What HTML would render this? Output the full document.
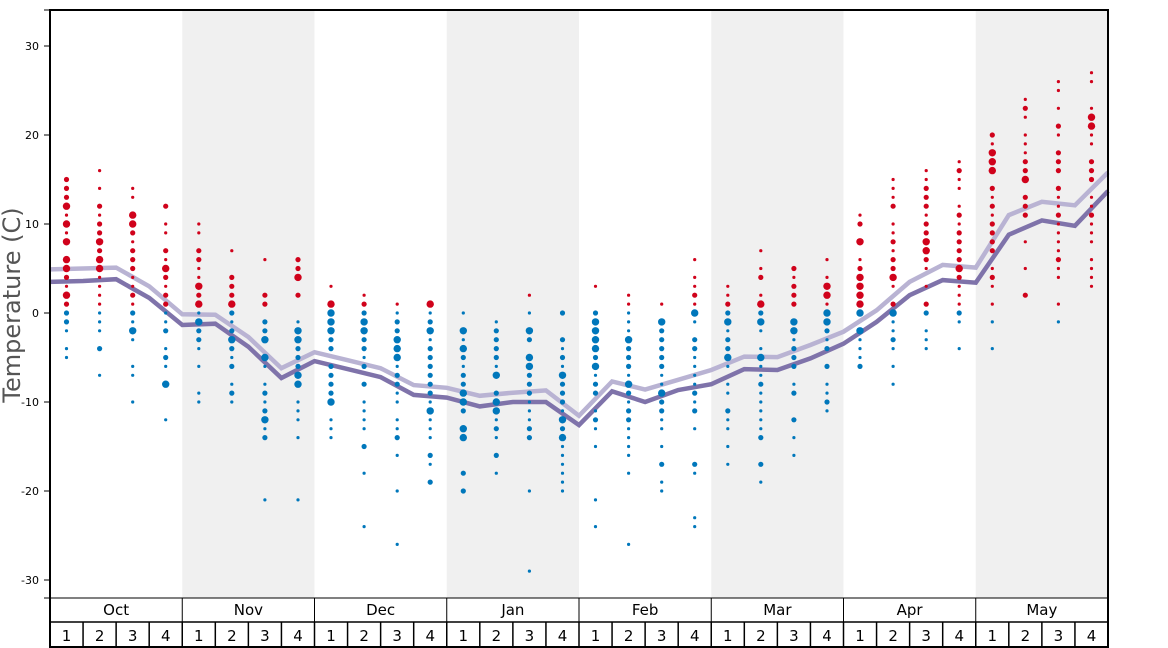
<!DOCTYPE html>
<html><head><meta charset="utf-8"><style>
html,body{margin:0;padding:0;background:#fff;}
svg{display:block;font-family:"DejaVu Sans","Liberation Sans",sans-serif;}
</style></head><body>
<svg id="chart" width="1168" height="648" viewBox="0 0 1168 648"></svg>
<script>
const months = ["Oct","Nov","Dec","Jan","Feb","Mar","Apr","May"];
const yTicks = [30,20,10,0,-10,-20,-30];
const darkLine = [3.5,3.6,3.8,1.7,-1.35,-1.2,-3.8,-7.3,-5.4,-6.3,-7.2,-9.2,-9.5,-10.5,-10.0,-10.0,-12.6,-8.8,-10.0,-8.65,-8.0,-6.3,-6.4,-5.1,-3.45,-1.0,2.0,3.7,3.4,8.8,10.4,9.8,13.7];
const lightLine = [4.9,5.0,5.1,3.0,-0.15,-0.2,-2.7,-6.2,-4.4,-5.3,-6.2,-8.1,-8.4,-9.3,-8.95,-8.7,-11.55,-7.7,-8.6,-7.5,-6.4,-4.9,-4.95,-3.6,-2.1,0.3,3.5,5.4,5.1,11.0,12.5,12.1,15.8];
const weekDots = [
"15:2,14:2,13:2,12:3,11:1,10:3,9:1,8:3,6:3,5:3,4:2,3:1,2:3,1:2,0:2,-1:2,-2:1,-4:1,-5:1",
"16:1,14:1,12:2,11:1,10:2,9:2,8:3,7:2,6:3,5:3,4:1,3:1,2:1,1:1,0:1,-1:1,-2:1,-4:2,-7:1",
"14:1,13:1,11:3,10:3,9:2,8:1,7:2,6:2,5:2,4:1,3:1,2:2,1:1,0:2,-1:1,-2:3,-3:1,-6:1,-7:1,-10:1",
"12:2,10:1,9:1,7:2,6:1,5:3,4:2,3:1,2:2,1:2,0:1,-1:1,-2:2,-4:1,-5:2,-6:1,-8:3,-12:1",
"10:1,9:1,7:2,6:2,5:1,4:1,3:3,2:2,1:3,0:1,-1:3,-2:2,-3:2,-4:1,-6:1,-9:1,-10:1",
"7:1,4:2,3:2,2:2,1:3,0:2,-1:1,-2:2,-3:3,-4:2,-5:1,-6:2,-8:1,-9:2,-10:1",
"6:1,2:2,1:2,-1:2,-2:2,-3:3,-5:3,-6:1,-8:1,-9:2,-10:1,-11:2,-12:3,-13:1,-14:2,-21:1",
"6:2,5:2,4:3,2:2,-1:1,-2:3,-3:3,-4:2,-5:2,-6:2,-7:3,-8:3,-10:1,-11:1,-12:1,-14:1,-21:1",
"3:1,1:3,0:3,-1:3,-2:3,-3:2,-4:2,-6:2,-7:2,-8:2,-9:2,-10:3,-12:1,-13:1,-14:1",
"2:1,1:2,0:2,-1:3,-2:3,-3:2,-4:2,-5:1,-6:2,-8:2,-10:1,-11:1,-12:1,-13:1,-15:2,-18:1,-24:1",
"1:1,0:1,-1:2,-2:2,-3:3,-4:3,-5:3,-6:1,-7:2,-8:2,-9:1,-10:1,-12:1,-13:1,-14:2,-16:1,-20:1,-26:1",
"1:3,0:1,-1:2,-2:3,-3:1,-4:2,-5:2,-6:2,-7:2,-8:2,-9:2,-10:1,-11:3,-12:1,-13:1,-14:1,-16:2,-17:1,-19:2",
"0:1,-2:3,-3:1,-4:3,-5:2,-6:1,-7:2,-8:2,-9:3,-10:3,-11:2,-13:3,-14:3,-18:2,-20:2",
"-1:1,-2:2,-3:2,-4:2,-5:2,-6:1,-7:3,-9:2,-10:3,-11:3,-12:1,-13:2,-14:1,-16:2,-18:1",
"2:1,0:1,-2:3,-3:2,-5:3,-6:3,-7:2,-8:2,-9:2,-10:1,-11:1,-12:1,-13:2,-14:2,-20:1,-29:1",
"0:2,-3:2,-4:1,-5:2,-6:1,-7:3,-8:2,-9:2,-10:2,-11:1,-12:3,-13:2,-14:3,-15:1,-16:1,-17:1,-18:1,-19:1,-20:1",
"3:1,0:2,-1:3,-2:3,-3:3,-4:3,-5:2,-6:3,-7:1,-8:2,-9:2,-11:1,-12:2,-13:1,-15:1,-21:1,-24:1",
"2:1,1:1,0:1,-1:1,-2:1,-3:3,-4:2,-5:2,-6:2,-7:1,-8:3,-9:2,-10:1,-11:2,-12:2,-13:1,-14:1,-15:1,-16:1,-18:1,-26:1",
"1:1,-1:3,-2:2,-3:2,-4:2,-5:2,-6:2,-7:1,-8:1,-9:3,-10:2,-11:2,-12:1,-13:1,-15:1,-17:2,-19:1,-20:1",
"6:1,4:1,3:1,2:2,1:1,0:3,-1:1,-3:2,-4:2,-5:1,-6:1,-7:1,-8:1,-9:2,-10:1,-11:2,-13:1,-17:2,-18:1,-23:1,-24:1",
"3:1,2:1,1:2,0:2,-1:3,-2:1,-3:2,-4:2,-5:3,-6:1,-8:1,-9:1,-11:2,-12:1,-13:1,-15:1,-17:1",
"7:1,5:1,4:2,2:1,1:3,0:2,-1:3,-2:1,-4:1,-5:3,-6:1,-7:1,-8:2,-9:1,-10:1,-11:1,-12:1,-13:1,-14:2,-17:2,-19:1",
"5:2,4:1,3:2,2:2,1:2,-1:3,-2:3,-3:1,-4:2,-5:2,-6:2,-8:1,-9:2,-12:2,-14:1,-16:1",
"6:1,4:1,3:3,2:3,1:1,0:3,-1:3,-2:2,-3:1,-4:2,-6:2,-8:1,-9:1,-10:2,-11:1",
"11:1,10:2,8:3,6:1,5:2,4:3,3:3,2:3,1:3,0:3,-2:3,-3:1,-4:1,-5:1,-6:2",
"15:1,14:1,13:1,12:2,10:1,9:1,8:2,7:1,6:2,5:2,4:3,3:1,1:2,0:3,-1:1,-2:1,-3:2,-4:1,-6:1,-8:1",
"16:1,15:1,14:2,13:2,12:2,11:1,10:2,9:2,8:3,7:3,6:2,5:1,3:1,1:2,0:2,-2:1,-3:1,-4:1",
"17:1,16:2,15:1,14:1,12:1,11:2,10:1,9:2,8:2,7:2,6:2,5:3,4:2,3:1,2:1,1:1,0:2,-1:1,-4:1",
"20:2,19:1,18:3,17:3,16:3,14:2,13:1,12:2,11:1,10:2,9:2,8:2,7:2,5:1,4:2,3:1,1:1,-1:1,-4:1",
"24:1,23:2,22:1,20:1,19:1,18:1,17:2,16:2,15:3,13:2,12:2,11:2,8:1,5:1,2:2",
"26:1,25:1,23:1,21:2,20:1,18:2,17:2,16:2,14:2,13:1,12:1,11:2,10:1,9:1,8:1,7:1,6:2,5:1,4:1,1:1,-1:1",
"27:1,26:1,23:1,22:3,21:3,20:1,19:1,17:2,16:2,15:2,13:1,12:1,11:2,10:1,9:1,8:1,6:1,5:1,4:1,3:1"
];

const NS="http://www.w3.org/2000/svg";
const svg=document.getElementById('chart');
const X0=50,X1=1108,Y0=10,Y1=598;
const nW=32, wW=(X1-X0)/nW;
function yS(t){return 313 - t*8.9;}
function xW(i){return X0 + (i+0.5)*wW;}
function xB(i){return X0 + i*wW;}
function mk(tag,attrs,parent){const e=document.createElementNS(NS,tag);for(const k in attrs)e.setAttribute(k,attrs[k]);(parent||svg).appendChild(e);return e;}

months.forEach((m,i)=>{
  if(i%2===1){
    const r=mk('rect',{x:xB(i*4),y:Y0,width:wW*4,height:Y1-Y0,fill:'#f0f0f0'});
    
    
  }
});

function drawLine(arr,color,name){
  const pts=arr.map((v,i)=>xB(i).toFixed(1)+','+yS(v).toFixed(1)).join(' ');
  const p=mk('polyline',{points:pts,fill:'none',stroke:color,'stroke-width':4.5,'stroke-linejoin':'miter'});
  
  
}
drawLine(lightLine,'#b9b3d3','light-average-line');
drawLine(darkLine,'#7f73aa','dark-average-line');

const rad=[0,1.6,2.6,3.7];
weekDots.forEach((s,i)=>{
  const g=mk('g',{});
  
  
  s.split(',').forEach(pair=>{
    const [t,z]=pair.split(':').map(Number);
    const c=mk('circle',{cx:xW(i).toFixed(1),cy:yS(t).toFixed(1),r:rad[z],fill:t>0?'#d0021b':'#0077bb'},g);
    
    
  });
});

const fr=mk('rect',{x:X0,y:Y0,width:X1-X0,height:648-Y0-1,fill:'none',stroke:'#000','stroke-width':2});


mk('line',{x1:X0,y1:Y1,x2:X1,y2:Y1,stroke:'#000','stroke-width':1});
mk('line',{x1:X0,y1:622,x2:X1,y2:622,stroke:'#000','stroke-width':1.5});

const ya=mk('g',{});


yTicks.forEach(t=>{
  mk('line',{x1:44,y1:yS(t),x2:X0,y2:yS(t),stroke:'#000','stroke-width':1},ya);
  const tx=mk('text',{x:39,y:yS(t)+4,'text-anchor':'end','font-size':11,fill:'#000'},ya);
  tx.textContent=t;
  
  
});
mk('line',{x1:44,y1:Y0,x2:X0,y2:Y0,stroke:'#000'},ya);
mk('line',{x1:44,y1:Y1,x2:X0,y2:Y1,stroke:'#000'},ya);
const yt=mk('text',{x:20,y:305,'text-anchor':'middle','font-size':24,fill:'#555',transform:'rotate(-90 20 305)'});
yt.textContent='Temperature (C)';



months.forEach((m,i)=>{
  if(i>0) mk('line',{x1:xB(i*4),y1:Y1,x2:xB(i*4),y2:622,stroke:'#000'});
  const t=mk('text',{x:xB(i*4)+wW*2,y:615,'text-anchor':'middle','font-size':15,fill:'#000'});
  t.textContent=m;
  
  
  for(let w=0;w<4;w++){
    const idx=i*4+w;
    if(idx>0) mk('line',{x1:xB(idx),y1:622,x2:xB(idx),y2:648,stroke:'#000','stroke-width':1.5});
    const wt=mk('text',{x:xW(idx),y:641,'text-anchor':'middle','font-size':15,fill:'#000'});
    wt.textContent=w+1;
    
    
  }
});
</script>
</body></html>
